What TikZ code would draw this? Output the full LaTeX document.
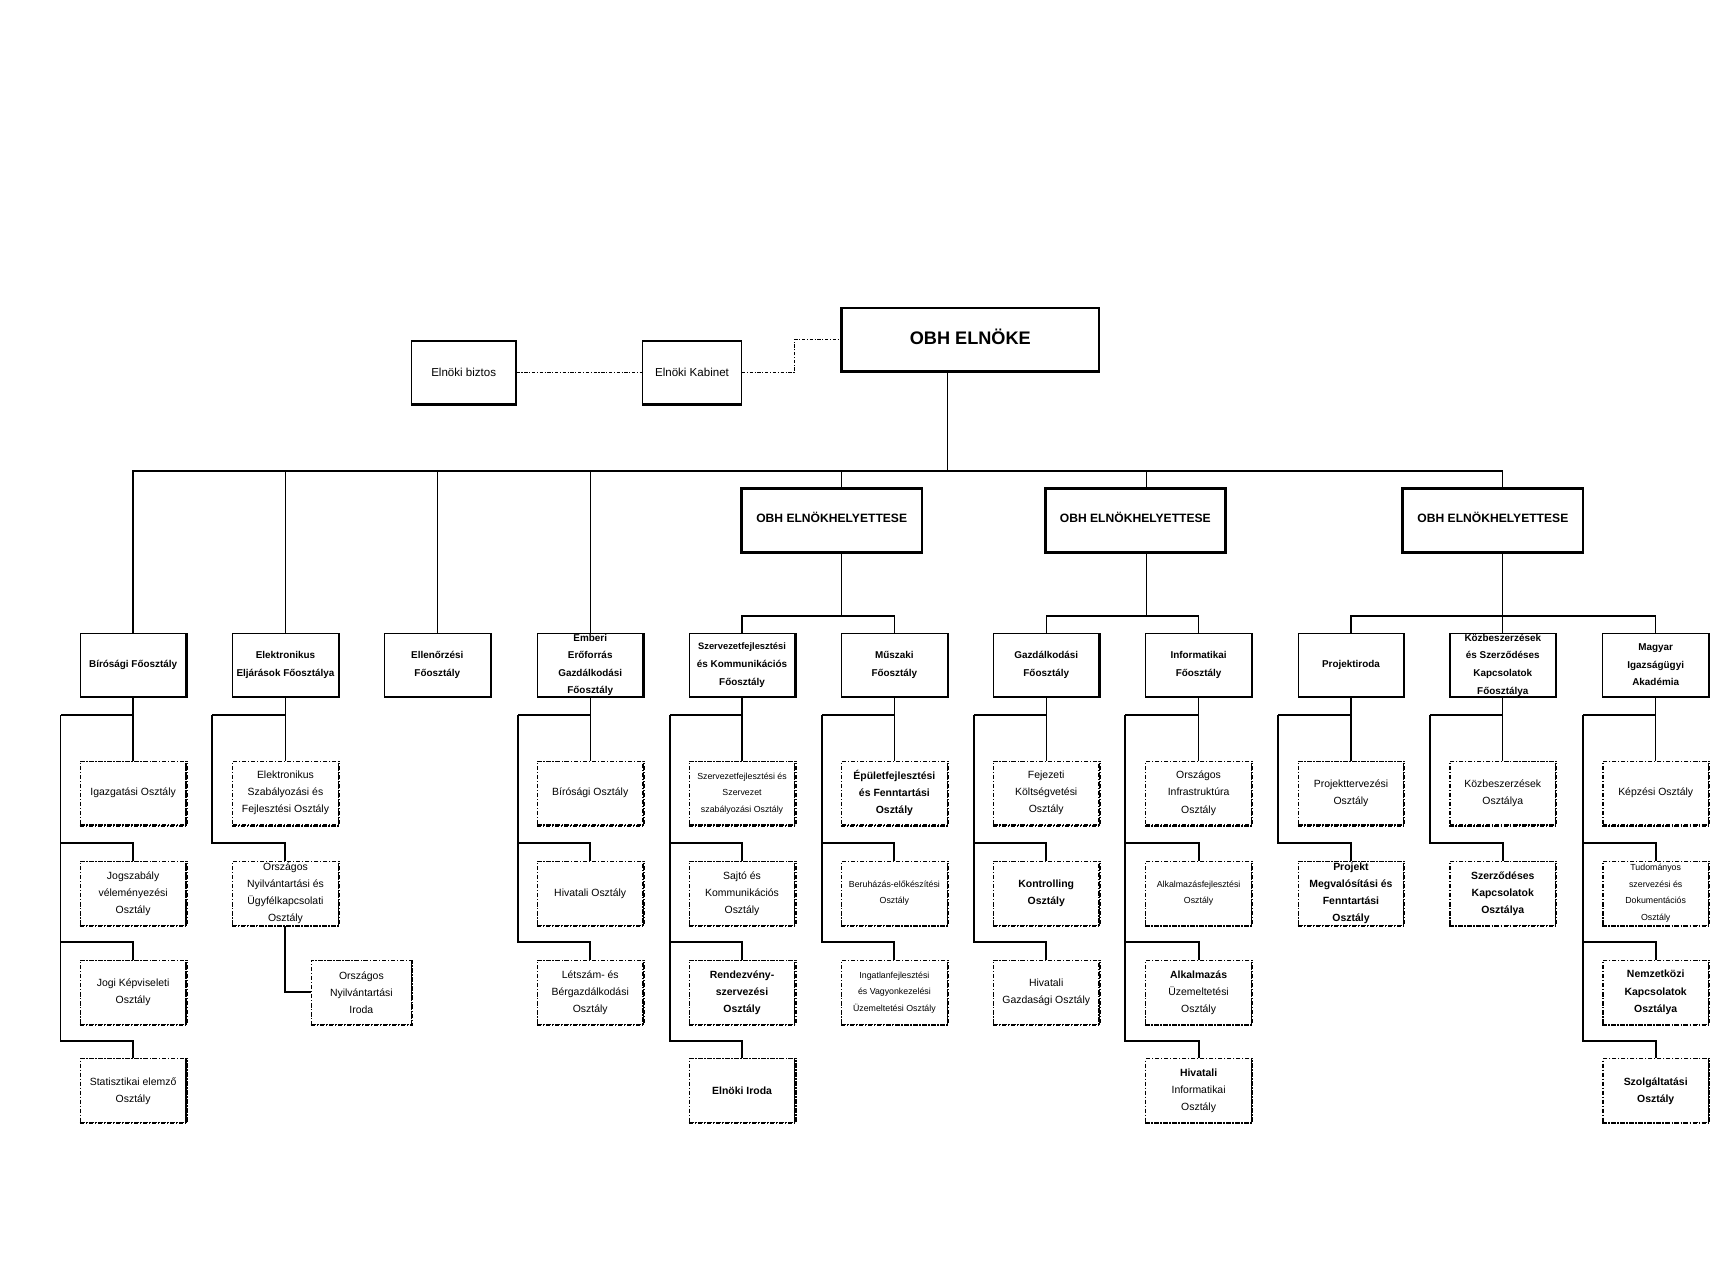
\documentclass[tikz,border=0pt]{standalone}
\usepackage{fontspec}
\setmainfont{Liberation Sans}
\newcommand\fo[3]{%
  \node[fobox] (#1) at (#2,604.5) {};
  \draw[line width=2pt] (#1.north east) -- (#1.south east) -- (#1.south west);
  \node[fotxt] (#1t) at (#1.center) {#3};}
\newcommand\sub[5]{%
  \node[subbox] (#1) at (#2,#3) {};
  \draw[subsh] (#1.south west) -- (#1.south east) -- (#1.north east);
  \node[subtxt,#4] (#1t) at (#1.center) {#5};}
\newcommand\col[3]{%
  \coordinate (#1sp) at (#2,650);
  \draw[ln] (#1.south) -- (#3.north);
  \draw[spine] (#1.south |- #1sp) -- (#1sp);}
\newcommand\br[2]{%
  \draw[spine] (#1sp) |- ([yshift=16pt]#2.north) -- (#2.north);}
\begin{document}
\begin{tikzpicture}[x=1pt,y=-1pt,
  ln/.style={line width=1.2pt},
  spine/.style={line width=1.8pt},
  dd/.style={line width=1pt,dash pattern=on 3pt off 1.5pt on 1pt off 1.5pt},
  fobox/.style={draw,line width=1pt,minimum width=96pt,minimum height=57pt,inner sep=0pt},
  subbox/.style={draw,line width=1.1pt,dash pattern=on 4pt off 1.5pt on 1.2pt off 1.5pt,minimum width=96pt,minimum height=58pt,inner sep=0pt},
  subsh/.style={line width=1.9pt,dash pattern=on 4pt off 1.5pt on 1.2pt off 1.5pt},
  ehbox/.style={draw,line width=2.5pt,minimum width=164pt,minimum height=58pt,inner sep=0pt},
  fotxt/.style={align=center,inner sep=0pt,font=\fontsize{9}{16}\selectfont\bfseries},
  subtxt/.style={align=center,inner sep=0pt,font=\fontsize{9.5}{15.5}\selectfont},
  smalltxt/.style={font=\fontsize{8}{15}\selectfont},
  boldtxt/.style={font=\fontsize{9.5}{15.5}\selectfont\bfseries},
  plaintxt/.style={},
]
\useasboundingbox (0,0) rectangle (1568,1150);
% top
\node[draw,line width=2.5pt,minimum width=234pt,minimum height=58pt,inner sep=0pt] (obh) at (882,309) {};
\node[font=\fontsize{16.5}{19}\selectfont\bfseries,inner sep=0pt] (obht) at ([yshift=3pt]obh.center) {OBH ELNÖKE};
\node[draw,line width=1pt,minimum width=95pt,minimum height=57pt,inner sep=0pt] (biz) at (421.5,338.5) {};
\draw[line width=2.5pt] (biz.south west) -- (biz.south east);
\node[font=\fontsize{10.5}{12}\selectfont,inner sep=0pt] (bizt) at (biz.center) {Elnöki biztos};
\node[draw,line width=1pt,minimum width=90pt,minimum height=57pt,inner sep=0pt] (kab) at (629,338.5) {};
\draw[line width=2.5pt] (kab.south west) -- (kab.south east);
\node[font=\fontsize{10.5}{12}\selectfont,inner sep=0pt] (kabt) at (kab.center) {Elnöki Kabinet};
\coordinate (kx) at (722,309);
\draw[dd] (biz.east) -- (kab.west);
\draw[dd] (kab.east) -| (kx) -- (obh.west);
% deputies
\node[ehbox] (eh1) at (756,473) {};
\node[ehbox] (eh2) at (1032,473) {};
\node[ehbox] (eh3) at (1357,473) {};
\foreach \e in {eh1,eh2,eh3}
  \node[font=\fontsize{11}{12}\selectfont\bfseries,inner sep=0pt] (\e t) at ([yshift=3pt]\e.center) {OBH ELNÖKHELYETTESE};
% departments
\fo{bir}{121}{Bírósági Főosztály}
\fo{ele}{259.5}{Elektronikus\\Eljárások Főosztálya}
\fo{ell}{397.5}{Ellenőrzési\\Főosztály}
\fo{emb}{536.5}{Emberi\\Erőforrás\\Gazdálkodási\\Főosztály}
\fo{szf}{674.5}{\fontsize{8.5}{15}\selectfont Szervezetfejlesztési\\és Kommunikációs\\Főosztály}
\fo{mus}{813}{Műszaki\\Főosztály}
\fo{gaz}{951}{Gazdálkodási\\Főosztály}
\fo{inf}{1089.5}{Informatikai\\Főosztály}
\fo{pro}{1228}{Projektiroda}
\fo{koz}{1366}{Közbeszerzések\\és Szerződéses\\Kapcsolatok\\Főosztálya}
\fo{mia}{1505}{Magyar\\Igazságügyi\\Akadémia}
% main connectors
\coordinate (b0) at (861,428);
\coordinate (b1) at (765,560);
\coordinate (b2) at (1042,560);
\coordinate (b3) at (1366,560);
\draw[ln] (obh.south -| b0) -- (b0);
\foreach \f in {bir,ele,ell,emb} \draw[ln] (\f.north) |- (b0);
\draw[ln] (eh1.north -| b1) |- (b0);
\draw[ln] (eh2.north -| b2) |- (b0);
\draw[ln] (eh3.north -| b3) |- (b0);
\draw[ln] (eh1.south -| b1) -- (b1);
\draw[ln] (eh2.south -| b2) -- (b2);
\draw[ln] (eh3.south -| b3) -- (b3);
\draw[ln] (szf.north) |- (b1) -| (mus.north);
\draw[ln] (gaz.north) |- (b2) -| (inf.north);
\draw[ln] (pro.north) |- (b3) -| (mia.north);
\draw[ln] (b3) -- (koz.north);
% sub-units
\sub{bir1}{121}{721}{plaintxt}{Igazgatási Osztály}
\sub{bir2}{121}{812}{plaintxt}{Jogszabály\\véleményezési\\Osztály}
\sub{bir3}{121}{902}{plaintxt}{Jogi Képviseleti\\Osztály}
\sub{bir4}{121}{991.5}{plaintxt}{Statisztikai elemző\\Osztály}
\col{bir}{55}{bir1}\br{bir}{bir2}\br{bir}{bir3}\br{bir}{bir4}

\sub{ele1}{259.5}{721}{plaintxt}{Elektronikus\\Szabályozási és\\Fejlesztési Osztály}
\sub{ele2}{259.5}{812}{plaintxt}{Országos\\Nyilvántartási és\\Ügyfélkapcsolati\\Osztály}
\node[subbox,minimum width=91pt] (oni) at (328.5,902) {};
\draw[subsh] (oni.south west) -- (oni.south east) -- (oni.north east);
\node[subtxt] (onit) at (oni.center) {Országos\\Nyilvántartási\\Iroda};
\col{ele}{193}{ele1}\br{ele}{ele2}
\draw[spine] (ele2.south) |- (oni.west);

\sub{emb1}{536.5}{721}{plaintxt}{Bírósági Osztály}
\sub{emb2}{536.5}{812}{plaintxt}{Hivatali Osztály}
\sub{emb3}{536.5}{902}{plaintxt}{Létszám- és\\Bérgazdálkodási\\Osztály}
\col{emb}{471}{emb1}\br{emb}{emb2}\br{emb}{emb3}

\sub{szf1}{674.5}{721}{smalltxt}{Szervezetfejlesztési és\\Szervezet\\szabályozási Osztály}
\sub{szf2}{674.5}{812}{plaintxt}{Sajtó és\\Kommunikációs\\Osztály}
\sub{szf3}{674.5}{902}{boldtxt}{Rendezvény-\\szervezési\\Osztály}
\sub{szf4}{674.5}{991.5}{boldtxt}{Elnöki Iroda}
\col{szf}{609}{szf1}\br{szf}{szf2}\br{szf}{szf3}\br{szf}{szf4}

\sub{mus1}{813}{721}{boldtxt}{Épületfejlesztési\\és Fenntartási\\Osztály}
\sub{mus2}{813}{812}{smalltxt}{Beruházás-előkészítési\\Osztály}
\sub{mus3}{813}{902}{smalltxt}{Ingatlanfejlesztési\\és Vagyonkezelési\\Üzemeltetési Osztály}
\col{mus}{747}{mus1}\br{mus}{mus2}\br{mus}{mus3}

\sub{gaz1}{951}{721}{plaintxt}{Fejezeti\\Költségvetési\\Osztály}
\sub{gaz2}{951}{812}{boldtxt}{Kontrolling\\Osztály}
\sub{gaz3}{951}{902}{plaintxt}{Hivatali\\Gazdasági Osztály}
\col{gaz}{885}{gaz1}\br{gaz}{gaz2}\br{gaz}{gaz3}

\sub{inf1}{1089.5}{721}{plaintxt}{Országos\\Infrastruktúra\\Osztály}
\sub{inf2}{1089.5}{812}{smalltxt}{Alkalmazásfejlesztési\\Osztály}
\sub{inf3}{1089.5}{902}{plaintxt}{\textbf{Alkalmazás}\\Üzemeltetési\\Osztály}
\sub{inf4}{1089.5}{991.5}{plaintxt}{\textbf{Hivatali}\\Informatikai\\Osztály}
\col{inf}{1023}{inf1}\br{inf}{inf2}\br{inf}{inf3}\br{inf}{inf4}

\sub{pro1}{1228}{721}{plaintxt}{Projekttervezési\\Osztály}
\sub{pro2}{1228}{812}{boldtxt}{Projekt\\Megvalósítási és\\Fenntartási\\Osztály}
\col{pro}{1162}{pro1}\br{pro}{pro2}

\sub{koz1}{1366}{721}{plaintxt}{Közbeszerzések\\Osztálya}
\sub{koz2}{1366}{812}{boldtxt}{Szerződéses\\Kapcsolatok\\Osztálya}
\col{koz}{1300}{koz1}\br{koz}{koz2}

\sub{mia1}{1505}{721}{plaintxt}{Képzési Osztály}
\sub{mia2}{1505}{812}{smalltxt}{Tudományos\\szervezési és\\Dokumentációs\\Osztály}
\sub{mia3}{1505}{902}{boldtxt}{Nemzetközi\\Kapcsolatok\\Osztálya}
\sub{mia4}{1505}{991.5}{boldtxt}{Szolgáltatási\\Osztály}
\col{mia}{1439}{mia1}\br{mia}{mia2}\br{mia}{mia3}\br{mia}{mia4}
\end{tikzpicture}
\end{document}
